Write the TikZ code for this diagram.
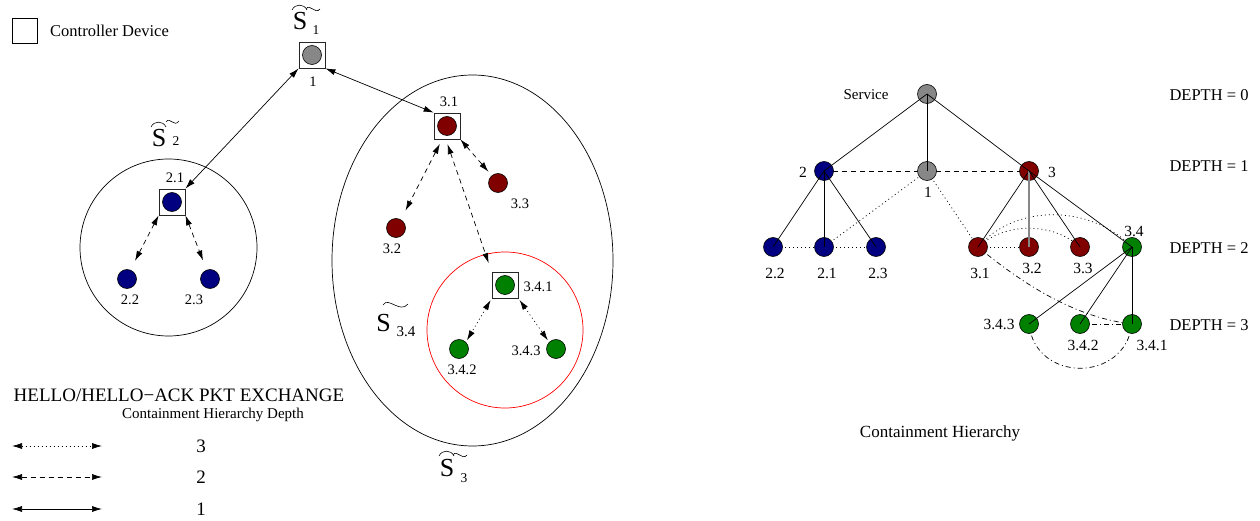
\documentclass[tikz,border=0pt]{standalone}
\usepackage{fontspec}
\setmainfont{Liberation Serif}
\usetikzlibrary{arrows.meta,calc,shapes.geometric}
\pgfdeclarelayer{bg}
\pgfsetlayers{bg,main}
\definecolor{devblue}{RGB}{0,0,128}
\definecolor{devred}{RGB}{128,0,0}
\definecolor{devgreen}{RGB}{0,128,0}
\definecolor{devgray}{RGB}{135,135,135}
\begin{document}
\begin{tikzpicture}[x=1pt,y=-1pt,
  dev/.style={circle,draw=black,line width=0.6pt,minimum size=19pt,inner sep=0pt},
  ctrlbox/.style={rectangle,draw=black!85,line width=0.8pt,minimum size=26pt,inner sep=0pt},
  lbl/.style={inner sep=0pt,font=\fontsize{14.5}{16}\selectfont},
  rlbl/.style={inner sep=0pt,font=\fontsize{15.5}{17}\selectfont},
  bigtxt/.style={inner sep=0pt,font=\fontsize{19}{22}\selectfont},
  slbl/.style={inner sep=0pt,font=\fontsize{26}{28}\selectfont},
  sublbl/.style={inner sep=0pt,font=\fontsize{13.5}{15}\selectfont},
  hello/.style={line width=0.7pt,{Latex[length=10pt,width=6pt]}-{Latex[length=10pt,width=6pt]}},
  hone/.style={hello},
  htwo/.style={hello,dash pattern=on 5pt off 4pt},
  hthree/.style={hello,dash pattern=on 1pt off 3pt},
  tree/.style={line width=0.7pt},
  tdash/.style={line width=0.7pt,dash pattern=on 5pt off 4pt},
  tdot/.style={line width=0.7pt,dash pattern=on 1pt off 3pt},
  tdashdot/.style={line width=0.7pt,dash pattern=on 5pt off 3pt on 1pt off 3pt},
  hatmark/.style={line width=0.6pt}
]
\useasboundingbox (0,0) rectangle (1260,521);

% ---------- legend: controller device ----------
\node[rectangle,draw=black,line width=0.7pt,minimum size=25pt,inner sep=0pt] (legbox) at (24.5,30.5) {};
\node[anchor=west,inner sep=0pt,font=\fontsize{16.5}{18}\selectfont] (legtxt) at (50,31) {Controller Device};

% ---------- left: devices ----------
\node[ctrlbox] (n1) at (312,55) {};
\node[dev,fill=devgray] (c1) at (312,55) {};
\node[lbl] (l1) at (313,82) {1};

\node[ctrlbox] (n21) at (172,202) {};
\node[dev,fill=devblue] (c21) at (172,202) {};
\node[lbl] (l21) at (175,178) {2.1};
\node[dev,fill=devblue] (c22) at (127,279) {};
\node[lbl] (l22) at (130,300) {2.2};
\node[dev,fill=devblue] (c23) at (210,279) {};
\node[lbl] (l23) at (194,300) {2.3};

\node[ctrlbox] (n31) at (447,126) {};
\node[dev,fill=devred] (c31) at (447,126) {};
\node[lbl] (l31) at (449,102) {3.1};
\node[dev,fill=devred] (c33) at (498,183) {};
\node[lbl] (l33) at (520,204) {3.3};
\node[dev,fill=devred] (c32) at (396,228) {};
\node[lbl] (l32) at (392,249) {3.2};

\node[ctrlbox] (n341) at (505,285) {};
\node[dev,fill=devgreen] (c341) at (505,285) {};
\node[lbl] (l341) at (538,287) {3.4.1};
\node[dev,fill=devgreen] (c342) at (459,349) {};
\node[lbl] (l342) at (462,370) {3.4.2};
\node[dev,fill=devgreen] (c343) at (556,349) {};
\node[lbl] (l343) at (526,351) {3.4.3};

% clusters
\node[circle,draw=black,line width=0.7pt,minimum size=177pt,inner sep=0pt] (clS2) at (168.5,247.5) {};
\node[ellipse,draw=black,line width=0.7pt,minimum width=281pt,minimum height=371pt,inner sep=0pt] (clS3) at (472.5,260.5) {};
\node[circle,draw=red,line width=0.7pt,minimum size=156pt,inner sep=0pt] (clS34) at (505,330) {};

% S labels
\node[slbl] (S1) at (300,21.5) {S};
\node[sublbl] (S1sub) at (316,30) {1};
\draw[hatmark] (292,10) .. controls (295,3.5) and (304,3.5) .. (307,10);
\draw[hatmark] (306,9) .. controls (310,3) and (315,15) .. (320,9);

\node[slbl] (S2) at (159,138.5) {S};
\node[sublbl] (S2sub) at (176,141) {2};
\draw[hatmark] (151,127) .. controls (154,120.5) and (163,120.5) .. (166,127);
\draw[hatmark] (166,122) .. controls (170,116) and (174,128) .. (179,121);

\node[slbl] (S3) at (447,468) {S};
\node[sublbl] (S3sub) at (464,478) {3};
\draw[hatmark] (439,456) .. controls (442,449.5) and (451,449.5) .. (454,456);
\draw[hatmark] (453,455) .. controls (457,449) and (462,461) .. (467,455);

\node[slbl] (S34) at (383.5,323.5) {S};
\node[inner sep=0pt,font=\fontsize{15}{17}\selectfont] (S34sub) at (406,332) {3.4};
\draw[hatmark] (383,305) .. controls (388,296) and (400,314) .. (408,304);

% hello arrows
\draw[hone] (n1.south west) -- (n21.north east);
\draw[hone] (n1.south east) -- (n31.north west);
\draw[htwo,shorten >=10pt] (n21.south west) -- (c22.70);
\draw[htwo,shorten >=10pt] (n21.south east) -- (c23.110);
\draw[htwo,shorten >=5pt] (n31.south east) -- (c33.130);
\draw[htwo,shorten <=5pt,shorten >=10pt] (n31.-110) -- (c32.60);
\draw[htwo,shorten <=5pt,shorten >=9pt] (n31.-95) -- (n341.north west);
\draw[hthree,shorten <=2pt,shorten >=2pt] (n341.south west) -- (c342.45);
\draw[hthree,shorten <=2pt,shorten >=2pt] (n341.south east) -- (c343.135);

% legend for exchange
\node[bigtxt] (hellotitle) at (179,395) {HELLO/HELLO−ACK PKT EXCHANGE};
\node[inner sep=0pt,font=\fontsize{15}{17}\selectfont] (depthtitle) at (213,415) {Containment Hierarchy Depth};
\coordinate (la3) at (12,446); \coordinate (lb3) at (102,446);
\coordinate (la2) at (12,477); \coordinate (lb2) at (102,477);
\coordinate (la1) at (12,509); \coordinate (lb1) at (102,509);
\draw[hthree] (la3) -- (lb3);
\draw[htwo] (la2) -- (lb2);
\draw[hone] (la1) -- (lb1);
\node[bigtxt] (num3) at (201,446) {3};
\node[bigtxt] (num2) at (201,477) {2};
\node[bigtxt] (num1) at (201,509) {1};

% ---------- right: containment hierarchy ----------
\node[dev,fill=devgray] (r0) at (927,94) {};
\node[inner sep=0pt,font=\fontsize{15}{17}\selectfont] (lr0) at (866,95) {Service};
\node[dev,fill=devblue] (r2) at (824,171) {};
\node[rlbl] (lr2) at (803,172) {2};
\node[dev,fill=devgray] (r1) at (927,171) {};
\node[rlbl] (lr1) at (928,192) {1};
\node[dev,fill=devred] (r3) at (1029,171) {};
\node[rlbl] (lr3) at (1052,172) {3};

\node[dev,fill=devblue] (r22) at (773,247) {};
\node[rlbl] (lr22) at (775,273) {2.2};
\node[dev,fill=devblue] (r21) at (824,247) {};
\node[rlbl] (lr21) at (827,273) {2.1};
\node[dev,fill=devblue] (r23) at (876,247) {};
\node[rlbl] (lr23) at (878,273) {2.3};

\node[dev,fill=devred] (r31) at (978,247) {};
\node[rlbl] (lr31) at (980,273) {3.1};
\node[dev,fill=devred] (r32) at (1029,247) {};
\node[rlbl] (lr32) at (1032,268) {3.2};
\node[dev,fill=devred] (r33) at (1080,247) {};
\node[rlbl] (lr33) at (1083,268) {3.3};
\node[dev,fill=devgreen] (r34) at (1132,247) {};
\node[rlbl] (lr34) at (1134,231) {3.4};

\node[dev,fill=devgreen] (r343) at (1029,324) {};
\node[rlbl] (lr343) at (999,324) {3.4.3};
\node[dev,fill=devgreen] (r342) at (1080,324) {};
\node[rlbl] (lr342) at (1083,345) {3.4.2};
\node[dev,fill=devgreen] (r341) at (1132,324) {};
\node[rlbl] (lr341) at (1152,345) {3.4.1};

\node[inner sep=0pt,font=\fontsize{16.5}{18}\selectfont] (d0) at (1209,95) {DEPTH = 0};
\node[inner sep=0pt,font=\fontsize{16.5}{18}\selectfont] (d1) at (1209,166) {DEPTH = 1};
\node[inner sep=0pt,font=\fontsize{16.5}{18}\selectfont] (d2) at (1209,248) {DEPTH = 2};
\node[inner sep=0pt,font=\fontsize{16.5}{18}\selectfont] (d3) at (1209,325) {DEPTH = 3};
\node[inner sep=0pt,font=\fontsize{17}{19}\selectfont] (chtitle) at (940,433) {Containment Hierarchy};

\begin{pgfonlayer}{bg}
  \draw[tdash] (r2.center) -- (r1.center);
  \draw[tdash] (r1.center) -- (r3.center);
  \draw[tdot] (r22.center) -- (r21.center);
  \draw[tdot] (r21.center) -- (r23.center);
  \draw[tdot] (r21.center) -- (r1.center);
  \draw[tdot] (r1.center) -- (r31.center);
  \draw[tdot] (r31.center) -- (r32.center);
  \draw[tdot] (r31.center) .. controls (1005,222) and (1053,222) .. (r33.center);
  \draw[tdot] (r31.center) .. controls (1015,204) and (1090,204) .. (r34.center);
  \draw[tdashdot] (r31.center) .. controls (1030,290) and (1080,318) .. (r341.center);
  \draw[tdashdot] (r342.center) -- (r341.center);
  \draw[tdashdot] (r343.center) .. controls (1035,383) and (1125,383) .. (r341.center);
\end{pgfonlayer}

\draw[tree] (r0.center) -- (r2.center);
\draw[tree] (r0.center) -- (r1.center);
\draw[tree] (r0.center) -- (r3.center);
\draw[tree] (r2.center) -- (r22.center);
\draw[tree] (r2.center) -- (r21.center);
\draw[tree] (r2.center) -- (r23.center);
\draw[tree] (r3.center) -- (r31.center);
\draw[line width=1.4pt,draw=devgray] (r3.center) -- (r32.center);
\draw[tree] (r3.center) -- (r33.center);
\draw[tree] (r3.center) -- (r34.center);
\draw[tree] (r34.center) -- (r343.center);
\draw[tree] (r34.center) -- (r342.center);
\draw[tree] (r34.center) -- (r341.center);
\end{tikzpicture}
\end{document}
